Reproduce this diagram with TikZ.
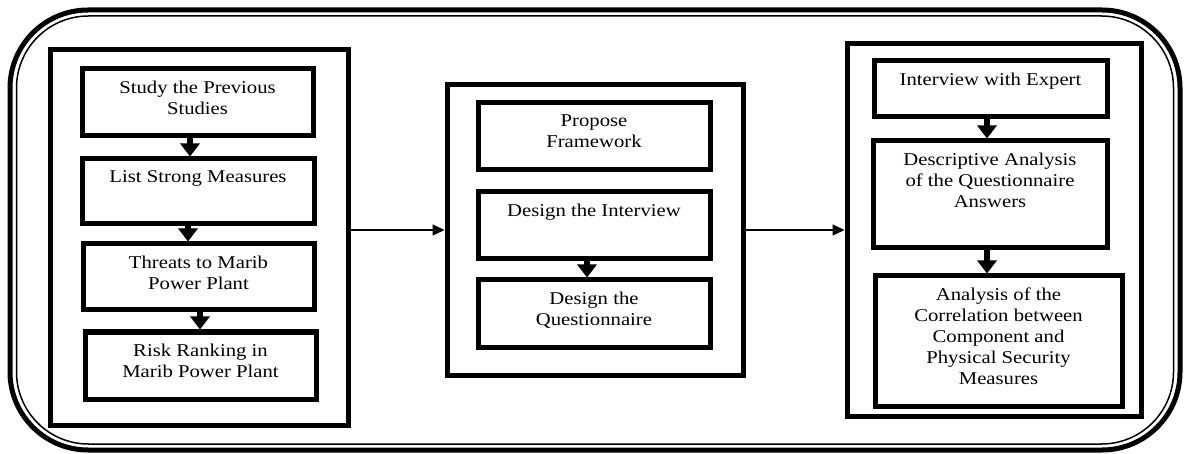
\documentclass[tikz,border=0pt]{standalone}
\usepackage{fontspec}
\setmainfont{Liberation Serif}[FakeStretch=1.15]
\usetikzlibrary{arrows.meta}
\tikzset{
  grp/.style={draw, line width=5pt, inner sep=0pt, outer sep=auto},
  stepbox/.style={draw, line width=5pt, inner sep=0pt, outer sep=auto},
  lbl/.style={anchor=north, yshift=-14pt, inner sep=0pt, align=center,
    font=\fontsize{18}{21}\selectfont},
  darrow/.style={line width=6pt, -{Triangle[length=13pt,width=19pt]}},
  flow/.style={line width=1.5pt, -{Triangle[length=12pt,width=11pt]}},
}
\newcommand{\mkbox}[7]{%
  \node[#1, minimum width={(#5-#3)*1pt}, minimum height={(#6-#4)*1pt},
        label={[lbl]north:{#7}}] (#2) at ({(#3+#5)/2},{(#4+#6)/2}) {};}
\begin{document}
\begin{tikzpicture}[x=1pt,y=-1pt]
\useasboundingbox (0,0) rectangle (1186,454);
% outer frame
\draw[line width=5pt, rounded corners=78pt] (10,10) rectangle (1180,450);
\draw[line width=1.5pt, rounded corners=72pt] (16.5,16) rectangle (1173.5,444);
% groups
\mkbox{grp}{g1}{50}{50}{348}{425}{}
\mkbox{grp}{g2}{447}{85}{743}{375}{}
\mkbox{grp}{g3}{847}{44}{1141}{416}{}
% left column
\mkbox{stepbox}{b1}{82}{69}{313}{136}{Study the Previous\\Studies}
\mkbox{stepbox}{b2}{82}{159}{314}{224}{List Strong Measures}
\mkbox{stepbox}{b3}{83}{244}{314}{310}{Threats to Marib\\Power Plant}
\mkbox{stepbox}{b4}{85}{332}{316}{399}{Risk Ranking in\\Marib Power Plant}
% middle column
\mkbox{stepbox}{m1}{478}{103}{710}{170}{Propose\\Framework}
\mkbox{stepbox}{m2}{478}{192}{710}{259}{Design the Interview}
\mkbox{stepbox}{m3}{478}{280}{710}{347}{Design the\\Questionnaire}
% right column
\mkbox{stepbox}{r1}{874}{61}{1107}{117}{Interview with Expert}
\mkbox{stepbox}{r2}{873}{141}{1107}{248}{Descriptive Analysis\\of the Questionnaire\\Answers}
\mkbox{stepbox}{r3}{875}{276}{1122}{406}{Analysis of the\\Correlation between\\Component and\\Physical Security\\Measures}
% arrows inside columns
\draw[darrow] ([xshift=-7.5pt]b1.south) -- ([xshift=-7.5pt]b1.south |- b2.north);
\draw[darrow] ([xshift=-10pt]b2.south) -- ([xshift=-10pt]b2.south |- b3.north);
\draw[darrow] ([xshift=1.5pt]b3.south) -- ([xshift=1.5pt]b3.south |- b4.north);
\draw[darrow] ([xshift=-7pt]m2.south) -- ([xshift=-7pt]m2.south |- m3.north);
\draw[darrow] ([xshift=-3.5pt]r1.south) -- ([xshift=-3.5pt]r1.south |- r2.north);
\draw[darrow] ([xshift=-3pt]r2.south) -- ([xshift=-3pt]r2.south |- r3.north);
% arrows between columns
\draw[flow] (g2.west -| g1.east) -- (g2.west);
\draw[flow] (g2.east) -- (g3.west);
\end{tikzpicture}
\end{document}
